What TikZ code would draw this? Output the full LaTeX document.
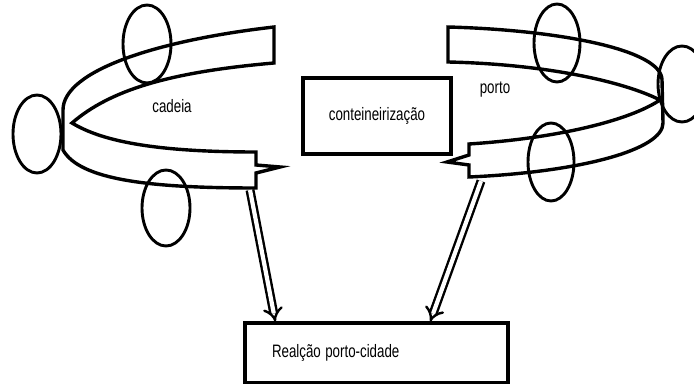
\documentclass[tikz,border=0pt]{standalone}
\usepackage{fontspec}
\setmainfont{Liberation Sans}
\usetikzlibrary{arrows.meta}
% condensed label text
\newcommand{\nrwtext}[1]{\scalebox{0.74}[1]{#1}}
\begin{document}
\begin{tikzpicture}[x=0.5pt, y=-0.5pt,
  ribbon/.style={draw=black, line width=1.7pt, line join=miter},
  ring/.style={draw=black, line width=1.45pt},
  labelbox/.style={draw=black, line width=1.7pt, inner sep=0pt},
  lbl/.style={font=\fontsize{9pt}{10pt}\selectfont, inner sep=0pt},
  flow/.style={double=white, draw=black, line width=1.2pt, double distance=2.1pt, -{Implies}}
]
\useasboundingbox (0,0) rectangle (694,384);

% left ribbon ("cadeia")
\draw[ribbon] (274,27) .. controls (160,40) and (63,70) .. (63,110)
  -- (63,150) .. controls (80,180) and (150,188) .. (256,188)
  -- (256,173) -- (280,167) -- (256,165) -- (256,152)
  .. controls (150,152) and (100,140) .. (72,123)
  .. controls (110,90) and (170,72) .. (274,63) -- cycle;

% right ribbon ("porto")
\draw[ribbon] (448,27) .. controls (560,30) and (662,50) .. (662,80)
  -- (663,123) .. controls (663,150) and (580,172) .. (469,177)
  -- (469,165) -- (447,162) -- (469,155) -- (469,144)
  .. controls (560,138) and (630,120) .. (660,100)
  .. controls (620,80) and (540,64) .. (448,62) -- cycle;

% rings around the ribbons
\draw[ring] (147,44) ellipse [x radius=12pt, y radius=19.5pt];
\draw[ring] (37,134) ellipse [x radius=12pt, y radius=19.5pt];
\draw[ring] (166,208) ellipse [x radius=12pt, y radius=19pt];
\draw[ring] (557,43) ellipse [x radius=11.5pt, y radius=19.5pt];
\draw[ring] (682,84) ellipse [x radius=12pt, y radius=19pt];
\draw[ring] (551,162) ellipse [x radius=11.5pt, y radius=19.5pt];

% labels
\node[lbl] (cadeia) at (172,106) {\nrwtext{cadeia}};
\node[lbl] (porto) at (495,90) {\nrwtext{porto}};

% boxes
\node[labelbox, lbl, minimum width=74pt, minimum height=38pt] (cont) at (377,116) {\nrwtext{conteineirização}};
\node[labelbox, lbl, text width=104.5pt, inner xsep=13.5pt, minimum height=30pt, align=left] (rel) at (376.5,353) {\nrwtext{Realção porto-cidade}};

% arrows into the bottom box
\coordinate (la) at (250,190);
\coordinate (ra) at (481,181);
\draw[flow] (la) -- ([xshift=16pt]rel.north west);
\draw[flow] (ra) -- ([xshift=93.5pt]rel.north west);
\end{tikzpicture}
\end{document}
